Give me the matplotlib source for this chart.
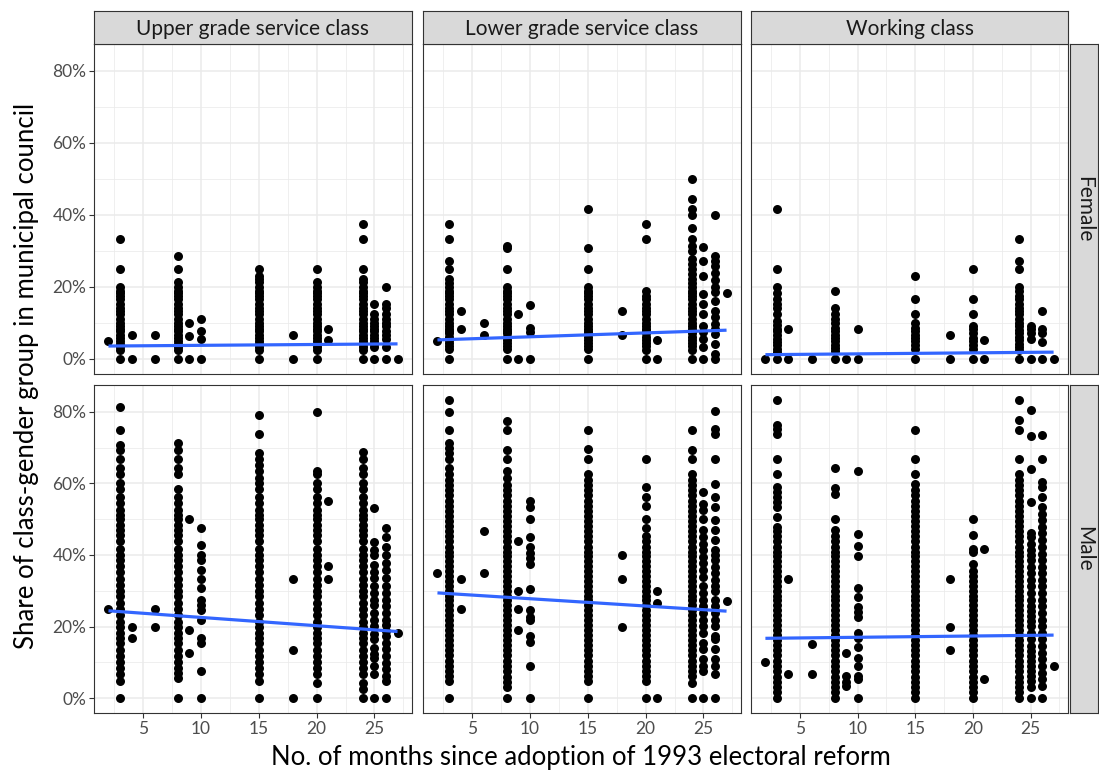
import matplotlib
matplotlib.use("Agg")
import matplotlib.pyplot as plt

# ---------------- data (percent values) ----------------
classes = ["Upper grade service class", "Lower grade service class", "Working class"]
genders = ["Female", "Male"]
x_ticks = [5, 10, 15, 20, 25]
y_ticks = [0, 20, 40, 60, 80]
y_tick_labels = ["0%", "20%", "40%", "60%", "80%"]
x_title = "No. of months since adoption of 1993 electoral reform"
y_title = "Share of class-gender group in municipal council"

upper_female = {
    2: [5.0],
    3: [0, 2.6, 3.4, 4.2, 5.0, 5.9, 6.7, 7.7, 8.3, 9.1, 10, 11.1, 12.5, 13.3, 14.3, 15.4, 16.7, 17.6, 18.2, 19, 20, 25, 33.3],
    4: [0, 6.7],
    6: [0, 6.7],
    8: [0, 2.6, 3.4, 4.2, 5.0, 5.9, 6.7, 7.7, 8.3, 9.1, 10, 11.1, 12.5, 13.3, 14.3, 15.4, 16.7, 17.6, 18.2, 19, 20, 21.4, 25, 28.6],
    9: [0, 6.3, 10],
    10: [0, 5.6, 7.7, 11.1],
    15: [0, 2.6, 3.4, 4.2, 5.0, 5.9, 6.7, 7.7, 8.3, 9.1, 10, 11.1, 12.5, 13.3, 14.3, 15.4, 16.7, 17.6, 18.2, 19, 20, 21.4, 22.2, 23.1, 25],
    18: [0, 6.7],
    20: [0, 2.6, 3.4, 4.2, 5.0, 5.9, 6.7, 7.7, 8.3, 9.1, 10, 11.1, 12.5, 13.3, 14.3, 15.4, 16.7, 17.6, 18.2, 19, 20, 21.4, 25],
    21: [5.3, 8.3],
    24: [0, 2.6, 3.4, 4.2, 5.0, 5.9, 6.7, 7.7, 8.3, 9.1, 10, 11.1, 12.5, 13.3, 14.3, 15.4, 16.7, 17.6, 18.2, 19, 20, 21.4, 22.2, 25, 33.3, 37.5],
    25: [0, 3.2, 4.2, 5.0, 5.9, 6.7, 7.7, 8.3, 9.1, 10, 11.1, 12.5, 15.4],
    26: [0, 3.2, 5.6, 6.7, 7.7, 9.1, 10, 11.1, 12.5, 14.3, 15.4, 20],
    27: [0],
}
lower_female = {
    2: [5.1],
    3: [0, 2.8, 3.6, 4.4, 5.3, 6.1, 7.1, 7.7, 8.3, 9.1, 10, 11.1, 12.5, 13.3, 14.3, 15.4, 16.7, 17.6, 18.2, 19, 20, 21.1, 22.2, 25, 27.3, 33.3, 37.5],
    4: [8.3, 13.3],
    6: [6.7, 10],
    8: [0, 2.8, 3.6, 4.4, 5.3, 6.1, 7.1, 7.7, 8.3, 9.1, 10, 11.1, 12.5, 13.3, 14.3, 15.4, 16.7, 17.6, 18.2, 19, 20, 25, 30.8, 31.3],
    9: [0, 12.5],
    10: [0, 7.4, 8.7, 15],
    15: [0, 2.8, 3.6, 4.4, 5.3, 6.1, 7.1, 7.7, 8.3, 9.1, 10, 11.1, 12.5, 13.3, 14.3, 15.4, 16.7, 17.6, 18.2, 19, 20, 25, 30.8, 41.7],
    18: [6.7, 13.3],
    20: [0, 2.4, 3.6, 4.4, 5.3, 6.1, 7.1, 7.7, 8.3, 9.1, 10, 11.1, 12.5, 13.3, 14.3, 15.4, 16.7, 17.6, 18.8, 33.3, 37.5],
    21: [0, 5.3],
    24: [0, 2.4, 3.6, 4.4, 5.3, 6.1, 7.1, 7.7, 8.3, 9.1, 10, 11.1, 12.5, 13.3, 14.3, 15.4, 16.7, 17.6, 18.2, 19, 20, 21.1, 22.2, 23.5, 25, 26.3, 27.8, 30, 31.3, 33.3, 36.4, 40, 41.7, 44.4, 50],
    25: [0, 3.2, 5.6, 7.4, 9.3, 12.5, 15.3, 18.0, 23.1, 27.3, 31.0],
    26: [0, 1.4, 4.2, 6.9, 8.3, 9.7, 11.6, 13.4, 16.2, 18.5, 19.9, 22, 24, 25.9, 27.3, 28.7, 40],
    27: [18.2],
}
working_female = {
    2: [0],
    3: [0, 2.0, 2.9, 3.8, 4.8, 5.6, 6.7, 7.7, 8.3, 9.5, 10.5, 12.5, 14.3, 15.4, 16.7, 18.2, 20, 25, 41.7],
    4: [0, 8.3],
    6: [0],
    8: [0, 2.2, 3.0, 4.0, 5.0, 5.9, 6.7, 7.7, 8.7, 10, 11.1, 12.5, 14.3, 18.8],
    9: [0],
    10: [0, 8.3],
    15: [0, 2.8, 4.0, 5.0, 5.9, 6.7, 7.7, 8.7, 10, 12.5, 16.7, 23.1],
    18: [0, 6.7],
    20: [0, 2.8, 4.0, 5.0, 5.9, 7.1, 8.3, 9.1, 12.5, 16.7, 25],
    21: [0, 5.3],
    24: [0, 2.4, 3.4, 4.3, 5.3, 6.2, 7.1, 8.0, 9.1, 10, 11.1, 12.5, 13.3, 14.3, 15.4, 16.7, 17.6, 18.8, 20, 25, 27.3, 33.3],
    25: [0, 5.6, 7.1, 8.3, 9.3],
    26: [0, 4.8, 7.1, 8.3, 13.3],
    27: [0],
}
upper_male = {
    2: [25],
    3: [0, 4.8, 6.7, 8.3, 10, 11.8, 13.3, 15.4, 16.7, 18.2, 20, 21.4, 23.1, 25, 26.7, 28.6, 30, 31.6, 33.3, 35.3, 36.8, 38.5, 40, 41.7, 43.8, 45.5, 47.1, 48.5, 50, 51.3, 52.6, 54.5, 56.3, 58.3, 60, 62.5, 64.3, 66.7, 69.2, 70.6, 75, 81.3],
    4: [16.7, 20],
    6: [20, 25],
    8: [0, 5.6, 7.1, 8.3, 10, 11.8, 13.3, 15.4, 16.7, 18.2, 20, 21.4, 23.1, 25, 26.7, 28.6, 30, 31.6, 33.3, 35.3, 36.8, 38.5, 40, 41.7, 43.8, 45.5, 47.1, 48.5, 50, 51.3, 52.6, 54.5, 56.3, 58.3, 62.5, 64.3, 66.7, 69.2, 71.4],
    9: [12.5, 19, 50],
    10: [0, 7.7, 15.4, 16.7, 21.9, 24.7, 26.1, 27.5, 30.8, 33.3, 35.7, 38.5, 40, 42.9, 47.4],
    15: [0, 4.8, 6.7, 8.3, 10, 11.8, 13.3, 15.4, 16.7, 18.2, 20, 21.4, 23.1, 25, 26.7, 28.6, 30, 31.6, 33.3, 35.3, 36.8, 38.5, 40, 41.7, 43.8, 45.5, 47.1, 48.5, 50, 51.3, 52.6, 54.5, 56.3, 58.3, 60, 61.5, 63.6, 65.2, 66.7, 68.4, 73.7, 79],
    18: [0, 13.3, 33.3],
    20: [0, 4.3, 6.7, 8.3, 10, 11.8, 13.3, 15.4, 16.7, 18.2, 20, 21.4, 23.1, 25, 26.7, 28.6, 30, 31.6, 33.3, 35.3, 36.8, 38.5, 40, 41.7, 43.8, 45.5, 47.1, 48.5, 50, 51.3, 52.6, 54.5, 56.3, 58.3, 60, 62.5, 63.6, 80],
    21: [33.3, 36.8, 55],
    24: [0, 2.5, 4.3, 6.7, 8.3, 10, 11.8, 13.3, 15.4, 16.7, 18.2, 20, 21.4, 23.1, 25, 26.7, 28.6, 30, 31.6, 33.3, 35.3, 36.8, 38.5, 40, 41.7, 43.8, 45.5, 47.1, 48.5, 50, 51.3, 52.6, 54.5, 56.3, 58.3, 60, 62.5, 64.3, 66.7, 68.8],
    25: [0, 6.7, 9.0, 11.3, 12.2, 14.1, 16.4, 17.8, 20.1, 21.9, 23.8, 26.1, 27.5, 29.3, 31.2, 33.5, 35.3, 37.2, 40, 41.4, 43.7, 53.1],
    26: [0, 4.8, 6.2, 8.0, 9.9, 11.7, 13.6, 15.4, 17.3, 18.7, 20.5, 21.9, 23.8, 25.6, 27.5, 29.3, 31.2, 33.5, 35.8, 37.7, 40.0, 42.3, 45.1, 47.4],
    27: [18.2],
}
lower_male = {
    2: [35],
    3: [0, 4.8, 6.3, 7.7, 9.1, 10.5, 12, 13.3, 14.8, 16.1, 17.6, 19, 20.4, 21.7, 23.1, 24.5, 25.9, 27.3, 28.6, 30, 31.3, 32.7, 34.1, 35.5, 36.8, 38.2, 39.6, 40.9, 42.3, 43.8, 45.2, 46.7, 48.1, 49.5, 51, 52.4, 53.8, 55.2, 56.7, 58.1, 59.5, 60.9, 62.5, 64.3, 66.7, 68.4, 70, 71.4, 75, 80, 83.3],
    4: [25, 33.3],
    6: [35, 46.7],
    8: [0, 3.0, 4.5, 6.0, 7.7, 9.1, 10.5, 12, 13.3, 14.8, 16.1, 17.6, 19, 20.4, 21.7, 23.1, 24.5, 25.9, 27.3, 28.6, 30, 31.3, 32.7, 34.1, 35.5, 36.8, 38.2, 39.6, 40.9, 42.3, 43.8, 45.2, 46.7, 48.1, 49.5, 51, 52.4, 53.8, 55.2, 56.7, 58.1, 59.5, 61.5, 63.6, 66.7, 69.2, 75, 77.3],
    9: [18.9, 25, 30, 43.8],
    10: [0, 9.1, 15.8, 17.4, 21.7, 22.7, 24.7, 30.4, 37.5, 39.1, 40.5, 42.3, 45, 50, 53.3, 55.2],
    15: [0, 4.8, 6.3, 7.7, 9.1, 10.5, 12, 13.3, 14.8, 16.1, 17.6, 19, 20.4, 21.7, 23.1, 24.5, 25.9, 27.3, 28.6, 30, 31.3, 32.7, 34.1, 35.5, 36.8, 38.2, 39.6, 40.9, 42.3, 43.8, 45.2, 46.7, 48.1, 49.5, 51, 52.4, 53.8, 55.2, 56.7, 58.1, 59.5, 60.9, 62.5, 66.7, 69.6, 75],
    18: [20, 33.3, 40],
    20: [0, 4.8, 6.3, 7.7, 9.1, 10.5, 12, 13.3, 14.8, 16.1, 17.6, 19, 20.4, 21.7, 23.1, 24.5, 25.9, 27.3, 28.6, 30, 31.3, 32.7, 34.1, 35.5, 36.8, 38.2, 39.6, 40.9, 42.3, 43.8, 45.2, 47.4, 50, 53.8, 56.3, 59.1, 66.7],
    21: [0, 26.7, 30],
    24: [0, 4.3, 6.3, 7.7, 9.1, 10.5, 12, 13.3, 14.8, 16.1, 17.6, 19, 20.4, 21.7, 23.1, 24.5, 25.9, 27.3, 28.6, 30, 31.3, 32.7, 34.1, 35.5, 36.8, 38.2, 39.6, 40.9, 42.3, 43.8, 45.2, 46.7, 48.1, 49.5, 51, 52.4, 53.8, 55.2, 56.7, 58.1, 59.5, 60.9, 62.5, 66.7, 69.2, 75],
    25: [0, 7.6, 9.0, 10.8, 13.6, 15.4, 18.2, 20.1, 21.9, 23.8, 25.6, 27.5, 29.3, 31.2, 33.9, 35.8, 37.7, 39.5, 41.4, 43.2, 45.1, 46.9, 50.1, 52.5, 54.3, 57.5],
    26: [0, 6.7, 9.0, 10.8, 13.6, 16.4, 17.3, 20.1, 21.9, 23.8, 25.6, 27.5, 29.8, 31.2, 33.0, 34.9, 36.7, 38.6, 40.0, 41.4, 44.1, 46.9, 49.7, 53.4, 56.2, 59.9, 66.8, 73.7, 75.3, 80.2],
    27: [27.2],
}
working_male = {
    2: [10],
    3: [0, 1.6, 3.0, 4.5, 6.0, 7.7, 9.1, 10.5, 12, 13.3, 14.8, 16.1, 17.6, 19, 20.4, 21.7, 23.1, 24.5, 25.9, 27.3, 28.6, 30, 31.3, 32.7, 34.1, 35.5, 36.8, 38.2, 39.6, 40.9, 42.3, 43.8, 45.2, 46.7, 47.8, 50.6, 53.4, 54.8, 56.2, 57.6, 59, 62.6, 66.7, 73.7, 75.3, 76.2, 83.3],
    4: [6.7, 33.3],
    6: [6.7, 15],
    8: [0, 1.6, 3.0, 4.5, 6.0, 7.7, 9.1, 10.5, 12, 13.3, 14.8, 16.1, 17.6, 19, 20.4, 21.7, 23.1, 24.5, 25.9, 27.3, 28.6, 30, 31.3, 32.7, 34.1, 35.5, 36.8, 38.2, 39.6, 40.9, 42.3, 43.8, 45.2, 46.9, 50, 57.1, 58.8, 64.3],
    9: [3.3, 4.6, 6.3, 12.5],
    10: [0, 5.2, 6.3, 9.1, 11.1, 14.3, 16.7, 18.2, 22.7, 24.1, 25.5, 28.3, 30.9, 39.7, 42.6, 45.8, 63.6],
    15: [0, 1.6, 3.0, 4.5, 6.0, 7.7, 9.1, 10.5, 12, 13.3, 14.8, 16.1, 17.6, 19, 20.4, 21.7, 23.1, 24.5, 25.9, 27.3, 28.6, 30, 31.3, 32.7, 34.1, 35.5, 36.8, 38.2, 39.6, 40.9, 42.3, 43.8, 45.2, 46.7, 48.1, 49.5, 51, 52.4, 53.8, 55.2, 56.7, 58.1, 59.9, 62.5, 66.7, 75],
    18: [13.3, 20, 33.3],
    20: [0, 1.6, 3.0, 4.5, 6.0, 7.7, 9.1, 10.5, 12, 13.3, 14.8, 16.1, 17.6, 19, 20.4, 21.7, 23.1, 24.5, 25.9, 27.3, 28.6, 30, 31.3, 32.7, 34.1, 35.5, 37.5, 40.7, 41.7, 45.5, 50],
    21: [5.3, 41.7],
    24: [0, 1.6, 3.0, 4.5, 6.0, 7.7, 9.1, 10.5, 12, 13.3, 14.8, 16.1, 17.6, 19, 20.4, 21.7, 23.1, 24.5, 25.9, 27.3, 28.6, 30, 31.3, 32.7, 34.1, 35.5, 36.8, 38.2, 39.6, 40.9, 42.3, 43.8, 45.2, 46.7, 48.1, 49.5, 51, 52.4, 53.8, 55.2, 56.7, 58.1, 59.5, 60.9, 62.5, 66.7, 75, 77.8, 83.3],
    25: [0, 3.0, 4.8, 6.2, 7.6, 9.0, 10.4, 11.7, 13.1, 14.5, 16.4, 18.2, 20.1, 21.5, 22.8, 24.2, 25.6, 27.5, 29.3, 31.2, 33.0, 34.9, 36.7, 38.6, 40, 41.4, 43.2, 45.1, 46, 54.8, 64, 73.3, 80.4],
    26: [0, 3.4, 5.3, 7.1, 9.0, 10.8, 12.7, 14.5, 16.4, 18.2, 20.1, 21.9, 23.8, 25.6, 27.5, 29.3, 31.2, 33.0, 34.9, 36.7, 38.6, 40.4, 42.3, 44.1, 46.0, 47.8, 49.7, 51.5, 53.4, 56.2, 59.0, 60.3, 66.8, 73.4],
    27: [9],
}

# fitted (lm) line values at the first and last month
fit_months = [2, 27]
fit_upper_female = [3.6, 4.2]
fit_lower_female = [5.3, 8.0]
fit_working_female = [1.2, 1.9]
fit_upper_male = [24.4, 18.6]
fit_lower_male = [29.4, 24.3]
fit_working_male = [16.7, 17.6]

panels = [
    [(upper_female, fit_upper_female), (lower_female, fit_lower_female), (working_female, fit_working_female)],
    [(upper_male, fit_upper_male), (lower_male, fit_lower_male), (working_male, fit_working_male)],
]

# ---------------- figure ----------------
W, H = 1099, 773
plt.rcParams["font.family"] = ["Lato", "DejaVu Sans"]
fig = plt.figure(figsize=(W / 100, H / 100), dpi=100)

col_left = [94, 423, 751]
col_width = [318, 318, 317]
row_top = [44, 385]
row_height = [330, 328]

grid_col = "#EBEBEB"
frame_col = "#333333"
strip_fill = "#D9D9D9"

def fx(px):
    return px / W

def fy(py):
    return 1 - py / H

for r in range(2):
    for c in range(3):
        data, fit = panels[r][c]
        ax = fig.add_axes([fx(col_left[c]), fy(row_top[r] + row_height[r]),
                           col_width[c] / W, row_height[r] / H])
        xs, ys = [], []
        for month, vals in data.items():
            for v in vals:
                xs.append(month)
                ys.append(v)
        ax.scatter(xs, ys, s=42, c="black", linewidths=0, zorder=3)
        ax.plot(fit_months, fit, color="#3366FF", lw=2.3, zorder=4, solid_capstyle="butt")
        ax.set_xlim(0.75, 28.25)
        ax.set_ylim(-4.17, 87.5)
        ax.set_xticks(x_ticks)
        ax.set_xticks([2.5, 7.5, 12.5, 17.5, 22.5, 27.5], minor=True)
        ax.set_yticks(y_ticks)
        ax.set_yticks([10, 30, 50, 70], minor=True)
        ax.grid(True, which="major", color=grid_col, lw=1.1)
        ax.grid(True, which="minor", color=grid_col, lw=0.55)
        ax.set_axisbelow(True)
        for sp in ax.spines.values():
            sp.set_color(frame_col)
            sp.set_linewidth(0.8)
        ax.tick_params(which="minor", length=0)
        ax.tick_params(which="major", length=3.5, width=0.8, color=frame_col,
                       labelcolor="#4D4D4D", labelsize=12.5, pad=2)
        if c == 0:
            ax.set_yticklabels(y_tick_labels)
        else:
            ax.tick_params(axis="y", left=False, labelleft=False)
        if r == 1:
            ax.set_xticklabels([str(t) for t in x_ticks])
        else:
            ax.tick_params(axis="x", bottom=False, labelbottom=False)

# top strips
for c in range(3):
    sax = fig.add_axes([fx(col_left[c]), fy(44), col_width[c] / W, 33 / H])
    sax.set_facecolor(strip_fill)
    sax.set_xticks([]); sax.set_yticks([])
    for sp in sax.spines.values():
        sp.set_color(frame_col); sp.set_linewidth(0.8)
    sax.text(0.5, 0.45, classes[c], ha="center", va="center", fontsize=15,
             color="#1A1A1A", transform=sax.transAxes)

# right strips
for r in range(2):
    sax = fig.add_axes([fx(1070), fy(row_top[r] + row_height[r]), 28 / W, row_height[r] / H])
    sax.set_facecolor(strip_fill)
    sax.set_xticks([]); sax.set_yticks([])
    for sp in sax.spines.values():
        sp.set_color(frame_col); sp.set_linewidth(0.8)
    sax.text(0.5, 0.5, genders[r], ha="center", va="center", fontsize=15,
             color="#1A1A1A", rotation=-90, transform=sax.transAxes)

fig.text(fx(581), fy(758), x_title, ha="center", va="center", fontsize=18.5, color="black")
fig.text(fx(27), fy(376), y_title, ha="center", va="center", fontsize=18.5,
         color="black", rotation=90)

fig.savefig("out.png", dpi=100, facecolor="white")
